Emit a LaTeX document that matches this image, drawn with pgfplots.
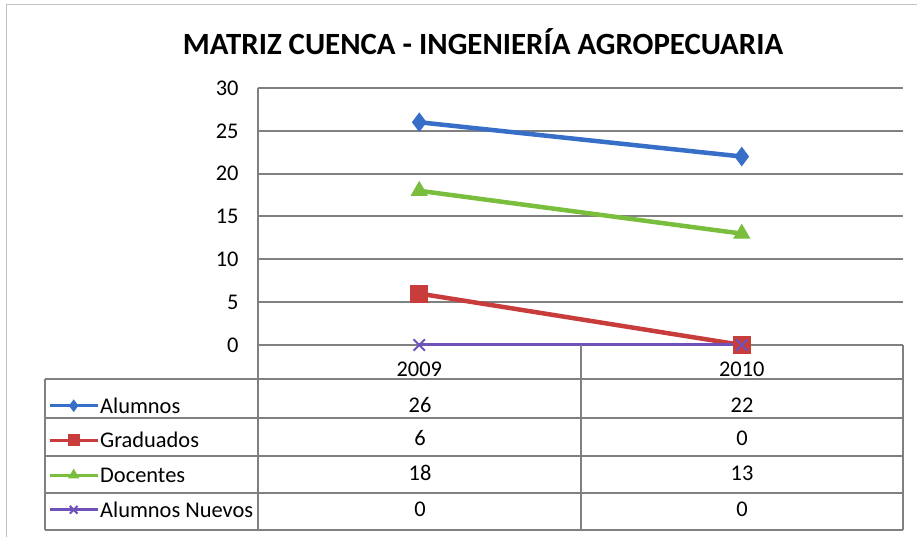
\documentclass[border=0pt]{standalone}
\usepackage{pgfplots}
\pgfplotsset{compat=1.18}
\usepackage{fontspec}
\setmainfont{Carlito}
\definecolor{cblue}{RGB}{55,110,200}
\definecolor{cred}{RGB}{200,60,60}
\definecolor{cgreen}{RGB}{122,190,62}
\definecolor{cpurple}{RGB}{110,82,186}
\definecolor{gridc}{RGB}{128,128,128}
\begin{document}
\begin{tikzpicture}[x=1bp,y=1bp]
\path[use as bounding box, fill=white] (0,0) rectangle (917,537);
\draw[gridc!50, line width=1bp] (6,0) -- (6,532) -- (917,532);
\node[font=\fontsize{31}{36}\selectfont\bfseries] at (483,495) {MATRIZ CUENCA - INGENIERÍA AGROPECUARIA};
\begin{axis}[
 at={(258bp,192bp)}, anchor=south west,
 width=645bp, height=257bp, scale only axis,
 xmin=-0.5, xmax=1.5, ymin=0, ymax=30,
 xtick={0,1}, xticklabels={2009,2010},
 ytick={0,5,...,30},
 ymajorgrids, grid style={gridc, line width=2bp},
 axis x line*=bottom, axis y line*=left,
 axis line style={gridc, line width=2bp, -},
 major tick length=0pt,
 tick label style={font=\fontsize{22.5}{27}\selectfont},
 /pgf/number format/assume math mode=true,
 xticklabel style={anchor=base, yshift=-32bp},
 yticklabel style={xshift=-16bp},
 clip=false,
 legend style={draw=none, fill=none, at={(rel axis cs:-0.3256,-0.2023)}, anchor=north west, inner sep=0pt, font=\fontsize{22.5}{27}\selectfont, nodes={inner sep=0pt, text height=16bp, text depth=5bp}, row sep=13.7bp, column sep=1bp},
 legend cell align=left,
 legend image code/.code={\draw[mark repeat=2, mark phase=2, line width=3bp, mark size=5.5bp, yshift=2bp] plot coordinates {(0bp,0bp) (24bp,0bp) (48bp,0bp)};},
]
\addplot[cblue, line width=4.5bp, mark=diamond*, mark size=9bp, mark options={solid, line width=1bp}] coordinates {(0,26) (1,22)};
\addlegendentry{Alumnos}
\addplot[cred, line width=4.5bp, mark=square*, mark size=8.5bp, mark options={solid, line width=1bp}] coordinates {(0,6) (1,0)};
\addlegendentry{Graduados}
\addplot[cgreen, line width=4.5bp, mark=triangle*, mark size=9bp, mark options={solid, line width=1bp}] coordinates {(0,18) (1,13)};
\addlegendentry{Docentes}
\addplot[cpurple, line width=3bp, mark=x, mark size=8bp, mark options={solid, line width=2bp}] coordinates {(0,0) (1,0)};
\addlegendentry{Alumnos Nuevos}
\end{axis}
\draw[gridc, line width=2bp] (258,192) -- (258,7);
\draw[gridc, line width=2bp] (581,192) -- (581,7);
\draw[gridc, line width=2bp] (903,192) -- (903,7);
\draw[gridc, line width=2bp] (45,158) -- (45,7);
\foreach \yy in {158,119,81,44,7} {\draw[gridc, line width=2bp] (45,\yy) -- (903,\yy);}
\begin{scope}[every node/.style={anchor=base, font=\fontsize{22.5}{27}\selectfont}]
\node at (420,124) {26}; \node at (742,124) {22};
\node at (420,91) {6}; \node at (742,91) {0};
\node at (420,56) {18}; \node at (742,56) {13};
\node at (420,20) {0}; \node at (742,20) {0};
\end{scope}
\end{tikzpicture}
\end{document}
